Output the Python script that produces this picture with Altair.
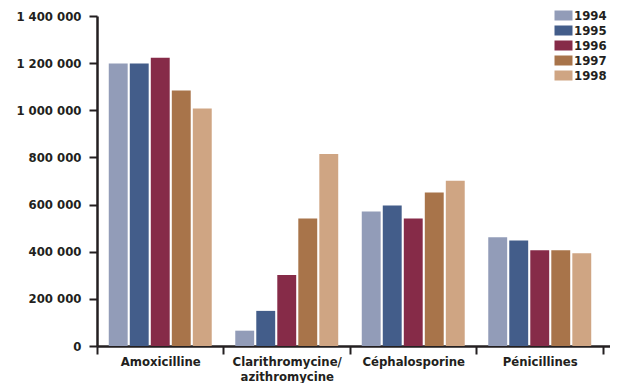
import altair as alt
import pandas as pd

categories = ["Amoxicilline", "Clarithromycine/azithromycine", "Céphalosporine", "Pénicillines"]
years = ["1994", "1995", "1996", "1997", "1998"]
values = {
    "1994": [1198000, 65000, 571000, 461000],
    "1995": [1198000, 149000, 596000, 448000],
    "1996": [1223000, 301000, 541000, 406000],
    "1997": [1084000, 541000, 651000, 406000],
    "1998": [1008000, 815000, 701000, 394000],
}
colors = ["#929cb8", "#435d8a", "#862b48", "#a8744a", "#cfa583"]

rows = []
for y in years:
    for c, v in zip(categories, values[y]):
        rows.append({"cat": c, "year": y, "value": v})
df = pd.DataFrame(rows)

FONT = "DejaVu Sans Condensed, Liberation Sans, sans-serif"
TXT = "#231f20"

chart = alt.Chart(df).mark_bar().encode(
    x=alt.X("cat:N", sort=categories, title=None,
            scale=alt.Scale(paddingInner=0, paddingOuter=0.0277, align=0),
            axis=alt.Axis(labelAngle=0, tickBand="extent", tickSize=8, tickWidth=2,
                          tickColor=TXT, domainColor=TXT, domainWidth=2.5,
                          labelFont=FONT, labelFontSize=13, labelFontWeight="bold",
                          labelColor=TXT, labelPadding=1, labelLineHeight=15,
                          labelExpr="datum.label == 'Clarithromycine/azithromycine' ? ['Clarithromycine/', 'azithromycine'] : datum.label")),
    xOffset=alt.XOffset("year:N", sort=years,
                        scale=alt.Scale(paddingInner=0.1, paddingOuter=0.56)),
    y=alt.Y("value:Q", title=None,
            scale=alt.Scale(domain=[0, 1400000], nice=False),
            axis=alt.Axis(values=[0, 200000, 400000, 600000, 800000, 1000000, 1200000, 1400000],
                          labelExpr="replace(format(datum.value, ',d'), /,/g, ' ')",
                          grid=False, tickSize=8, tickWidth=2, tickColor=TXT,
                          domainColor=TXT, domainWidth=2.5,
                          labelFont=FONT, labelFontSize=13, labelFontWeight="bold",
                          labelColor=TXT, labelPadding=8)),
    color=alt.Color("year:N", sort=years,
                    scale=alt.Scale(domain=years, range=colors),
                    legend=alt.Legend(title=None, orient="none", legendX=460, legendY=-7,
                                      symbolType="M-1.8,-1H1.8V1H-1.8Z", symbolSize=100,
                                      symbolStrokeWidth=0, symbolOpacity=1,
                                      labelFont=FONT, labelFontSize=13, labelFontWeight="bold",
                                      labelColor=TXT, labelOffset=4, rowPadding=1)),
).properties(
    width=513, height=330,
    autosize=alt.AutoSizeParams(type="none"),
    padding={"left": 89, "top": 8, "right": 0, "bottom": 37},
).configure_view(stroke=None)

chart.save("out.html", embed_options={"renderer": "svg", "actions": False})
